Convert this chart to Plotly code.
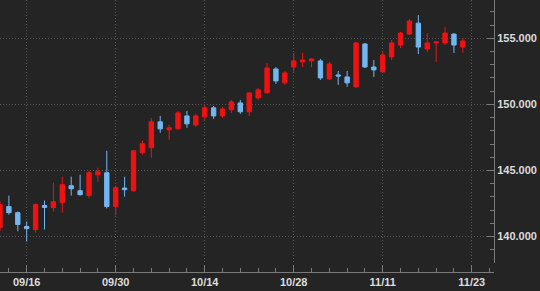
import plotly.graph_objects as go

dates = ["09/11","09/12","09/13","09/16","09/17","09/18","09/19","09/20","09/23","09/24",
         "09/25","09/26","09/27","09/30","10/01","10/02","10/03","10/04","10/07","10/08",
         "10/09","10/10","10/11","10/14","10/15","10/16","10/17","10/18","10/21","10/22",
         "10/23","10/24","10/25","10/28","10/29","10/30","10/31","11/01","11/04","11/05",
         "11/06","11/07","11/08","11/11","11/12","11/13","11/14","11/15","11/18","11/19",
         "11/20","11/21","11/22"]

opens = [140.68,142.27,141.81,140.76,140.53,142.35,142.19,142.57,143.85,143.47,
         143.10,144.68,144.83,142.27,143.67,143.47,146.34,146.72,148.68,148.08,
         148.15,149.13,148.45,149.06,149.74,149.13,149.59,150.11,149.44,150.49,
         150.87,152.68,151.63,152.83,153.21,153.29,153.29,151.93,152.23,152.08,
         151.33,154.57,152.83,152.46,153.59,154.49,155.32,156.15,154.19,154.65,
         154.65,155.32,154.34]
highs = [142.70,143.10,141.90,141.14,142.50,142.72,144.08,144.53,144.53,144.68,
         144.98,145.21,146.49,143.85,144.53,146.57,147.25,148.98,149.13,148.45,
         149.51,149.51,149.28,149.89,149.89,149.81,150.34,150.34,150.95,151.25,
         153.13,152.83,152.53,153.89,153.89,153.51,153.44,153.21,152.53,152.53,
         154.72,154.65,153.36,153.97,154.87,155.48,156.46,156.76,155.40,154.80,
         155.85,155.40,155.02]
lows = [140.40,141.66,140.40,139.63,140.30,140.53,141.89,141.81,143.10,143.10,
        142.94,144.15,142.12,141.59,143.02,143.40,146.19,145.96,147.85,147.32,
        148.08,148.23,148.30,148.83,148.91,148.98,149.36,149.28,149.13,150.34,
        150.87,151.55,151.48,152.46,152.83,152.83,151.85,151.85,151.48,151.33,
        151.25,152.76,152.08,152.46,153.36,154.27,155.25,153.81,153.97,153.21,
        154.49,153.89,153.89]
closes = [142.42,141.81,140.91,140.60,142.42,142.20,142.64,143.93,143.62,143.17,
          144.83,144.91,142.27,143.70,143.55,146.49,147.02,148.68,148.15,148.23,
          149.36,148.53,149.13,149.74,149.13,149.66,150.19,149.44,150.87,151.10,
          152.76,151.78,152.38,153.29,153.36,153.44,152.00,153.06,152.15,151.63,
          154.65,152.83,152.61,153.74,154.65,155.40,156.31,154.34,154.65,154.72,
          155.40,154.49,154.80]

tick_pos = [3, 13, 23, 33, 43, 53]
tick_labels = ["09/16", "09/30", "10/14", "10/28", "11/11", "11/23"]
y_ticks = [140, 145, 150, 155]

x = list(range(len(dates)))

RED = "#f01212"
BLUE = "#72b6f2"
BG = "#242424"
GRID = "#555555"
AXIS = "#7a7a7a"
TXT = "#dcdcdc"
FONT = "Liberation Sans"

fig = go.Figure(go.Candlestick(
    x=x, open=opens, high=highs, low=lows, close=closes,
    increasing=dict(line=dict(color=RED, width=1), fillcolor=RED),
    decreasing=dict(line=dict(color=BLUE, width=1), fillcolor=BLUE),
    whiskerwidth=0, showlegend=False, hoverinfo="skip",
))

H = 291
plot_bottom_px = 272
yaxis_bottom_px = 263

fig.update_layout(
    width=540, height=291,
    margin=dict(l=0, r=46, t=0, b=H - plot_bottom_px),
    paper_bgcolor=BG, plot_bgcolor=BG,
    font=dict(family=FONT, size=11, color=TXT),
    xaxis=dict(
        range=[0, 55.5], rangeslider=dict(visible=False),
        anchor="free", position=0,
        tickmode="array", tickvals=tick_pos, ticktext=tick_labels,
        ticks="inside", ticklen=7, tickcolor=AXIS, tickwidth=1,
        showline=True, linecolor=AXIS, linewidth=1,
        showgrid=True, gridcolor=GRID, griddash="1px,2px", gridwidth=1,
        zeroline=False,
        tickfont=dict(family=FONT, size=11, color=TXT, weight="bold"),
        minor=dict(tickmode="array", tickvals=list(range(1, 56, 2)),
                   ticks="inside", ticklen=4, tickcolor=AXIS, showgrid=False),
    ),
    yaxis=dict(
        range=[138, 157.9], side="right",
        domain=[(plot_bottom_px - yaxis_bottom_px) / plot_bottom_px, 1],
        tickmode="array", tickvals=y_ticks, tickformat=".3f",
        ticks="inside", ticklen=7, tickcolor=AXIS, tickwidth=1,
        showline=True, linecolor=AXIS, linewidth=1,
        showgrid=True, gridcolor=GRID, griddash="1px,2px", gridwidth=1,
        zeroline=False,
        tickfont=dict(family=FONT, size=11, color=TXT, weight="bold"),
        minor=dict(dtick=1, tick0=0, ticks="inside", ticklen=4,
                   tickcolor=AXIS, showgrid=False),
    ),
)

fig.write_html("out.html")
